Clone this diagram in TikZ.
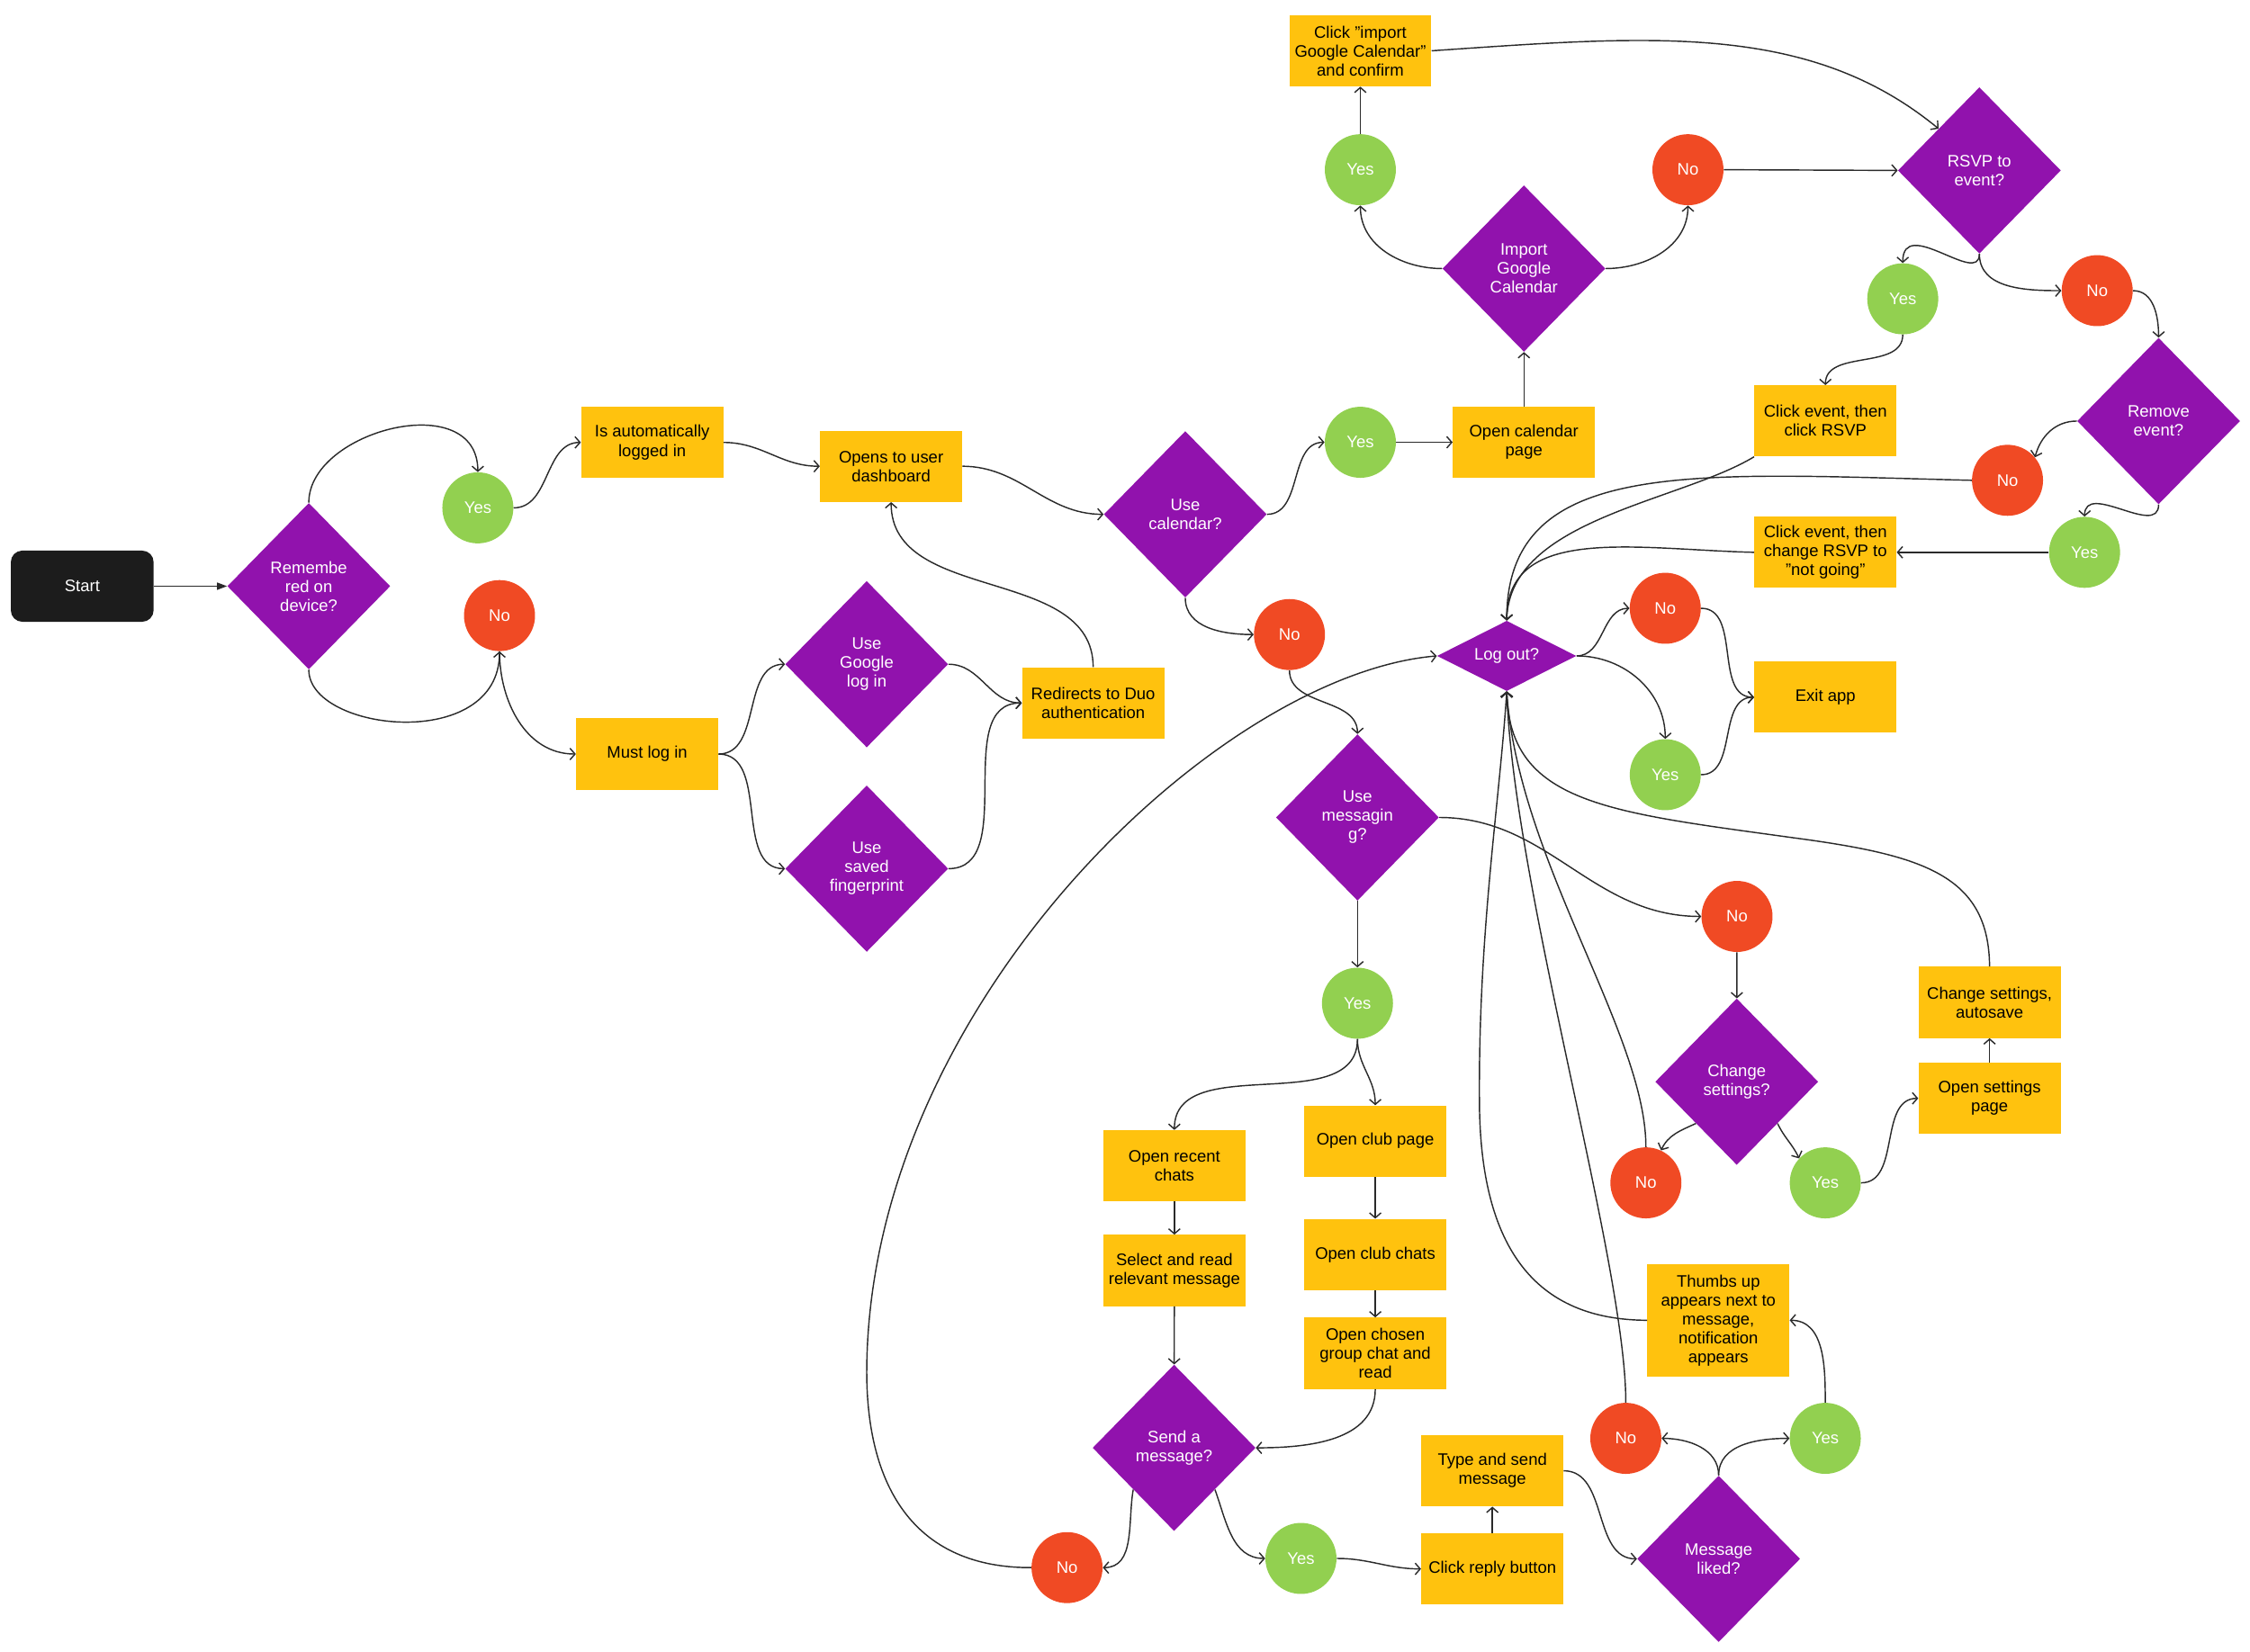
\documentclass[tikz,border=0pt]{standalone}
\usepackage{fontspec}
\setmainfont{Liberation Sans}
\usetikzlibrary{shapes.geometric,arrows.meta}
\definecolor{cYel}{HTML}{FFC20E}
\definecolor{cGrn}{HTML}{92D050}
\definecolor{cRed}{HTML}{F04A24}
\definecolor{cPur}{HTML}{9112AD}
\definecolor{cBlk}{HTML}{1C1C1C}
\definecolor{cLine}{HTML}{2A2A2A}
\begin{document}
\begin{tikzpicture}[x=1pt,y=-1pt,
  base/.style={font=\fontsize{11.6}{13.2}\selectfont, align=center, inner sep=0pt},
  box/.style={base, fill=cYel, minimum width=99pt, minimum height=49.6pt, text=black},
  yesc/.style={base, circle, fill=cGrn, minimum size=49.5pt, text=white},
  noc/.style={base, circle, fill=cRed, minimum size=49.5pt, text=white},
  dia/.style={base, diamond, fill=cPur, minimum width=113.5pt, minimum height=116pt, text=white},
  startbox/.style={base, rounded corners=8pt, fill=cBlk, minimum width=99.5pt, minimum height=49.6pt, text=white},
  arr/.style={draw=cLine, line width=0.9pt, -{Straight Barb[length=3.5pt,width=8pt]}},
  arrS/.style={draw=cLine, line width=0.9pt, -{Triangle[length=7pt,width=5pt]}}
]
\useasboundingbox (0,0) rectangle (1568,1151.5);

% nodes
\node[startbox] (start) at (57.3,408.6) {Start};
\node[dia] (rem) at (215.2,408.6) {Remembe\\red on\\device?};
\node[yesc] (y1) at (333,354) {Yes};
\node[noc] (n1) at (348.1,429.1) {No};
\node[box] (auto) at (454.5,308.4) {Is automatically\\logged in};
\node[box] (must) at (451,525.6) {Must log in};
\node[box] (dash) at (621,325) {Opens to user\\dashboard};
\node[dia] (goog) at (604,463) {Use\\Google\\log in};
\node[dia] (fing) at (604,605.5) {Use\\saved\\fingerprint};
\node[box] (duo) at (761.8,490) {Redirects to Duo\\authentication};
\node[dia] (ucal) at (826,358.5) {Use\\calendar?};
\node[yesc] (y2) at (948,308.3) {Yes};
\node[box] (ocal) at (1062,308.3) {Open calendar\\page};
\node[dia] (imp) at (1062,187.2) {Import\\Google\\Calendar};
\node[yesc] (y3) at (948,118.3) {Yes};
\node[box] (cimp) at (948,35.4) {Click "import\\Google Calendar"\\and confirm};
\node[noc] (n2) at (1176.3,118.3) {No};
\node[dia] (rsvp) at (1379.4,118.8) {RSVP to\\event?};
\node[yesc] (y4) at (1326,208.3) {Yes};
\node[noc] (n3) at (1461.5,202.6) {No};
\node[box] (crsvp) at (1272.1,293.4) {Click event, then\\click RSVP};
\node[dia] (remv) at (1504.3,293.5) {Remove\\event?};
\node[noc] (n4) at (1399,334.8) {No};
\node[yesc] (y5) at (1452.7,385) {Yes};
\node[box] (crsvp2) at (1272.1,385) {Click event, then\\change RSVP to\\"not going"};
\node[dia, minimum width=97pt, minimum height=49pt, shape aspect=2] (logout) at (1050,457.2) {Log out?};
\node[noc] (n5) at (1160.5,424) {No};
\node[yesc] (y6) at (1160.5,540) {Yes};
\node[box] (exit) at (1272.1,486) {Exit app};
\node[noc] (n6) at (898.6,442.3) {No};
\node[dia] (msg) at (946,569.8) {Use\\messagin\\g?};
\node[yesc] (y7) at (946,699.3) {Yes};
\node[noc] (n7) at (1210.5,638.8) {No};
\node[dia] (cs) at (1210.3,754) {Change\\settings?};
\node[noc] (n8) at (1147,824.5) {No};
\node[yesc] (y8) at (1272,824.5) {Yes};
\node[box] (oset) at (1386.5,765.6) {Open settings\\page};
\node[box] (csa) at (1386.5,698.7) {Change settings,\\autosave};
\node[box] (orec) at (818.4,812.6) {Open recent\\chats};
\node[box] (sel) at (818.4,885.6) {Select and read\\relevant message};
\node[box] (oclub) at (958.4,795.4) {Open club page};
\node[box] (cchat) at (958.4,874.5) {Open club chats};
\node[box] (chosen) at (958.4,943.3) {Open chosen\\group chat and\\read};
\node[dia] (send) at (818.2,1009.2) {Send a\\message?};
\node[noc] (n9) at (743.6,1092.7) {No};
\node[yesc] (y9) at (906.6,1086.3) {Yes};
\node[box] (reply) at (1040,1093.6) {Click reply button};
\node[box] (type) at (1040,1025.2) {Type and send\\message};
\node[dia] (liked) at (1197.7,1086.6) {Message\\liked?};
\node[noc] (n10) at (1133,1002.6) {No};
\node[yesc] (y10) at (1272,1002.6) {Yes};
\node[box, minimum height=78.3pt] (thumb) at (1197.5,920.3) {Thumbs up\\appears next to\\message,\\notification\\appears};

% connectors
\draw[arrS] (start) -- (rem);
\draw[arr] (rem.north) .. controls (215,300) and (333,270) .. (y1.north);
\draw[arr] (rem.south) .. controls (215,510) and (348,525) .. (n1.south);
\draw[arr] (y1.east) to[out=0,in=180] (auto.west);
\draw[arr] (auto.east) to[out=0,in=180] (dash.west);
\draw[arr] (n1.south) to[out=-90,in=180] (must.west);
\draw[arr] (must.east) to[out=0,in=180] (goog.west);
\draw[arr] (must.east) to[out=0,in=180] (fing.west);
\draw[arr] (goog.east) to[out=0,in=180] (duo.west);
\draw[arr] (fing.east) to[out=0,in=180] (duo.west);
\draw[arr] (duo.north) to[out=90,in=-90] (dash.south);
\draw[arr] (dash.east) to[out=0,in=180] (ucal.west);
\draw[arr] (ucal.east) to[out=0,in=180] (y2.west);
\draw[arr] (y2) -- (ocal);
\draw[arr] (ocal) -- (imp);
\draw[arr] (imp.west) to[out=180,in=-90] (y3.south);
\draw[arr] (imp.east) to[out=0,in=-90] (n2.south);
\draw[arr] (y3) -- (cimp);
\draw[arr] (cimp.east) .. controls (1150,25) and (1260,15) .. (rsvp.north west);
\draw[arr] (n2.east) -- (rsvp.west);
\draw[arr] (rsvp.south) .. controls (1379.4,200) and (1326,150) .. (y4.north);
\draw[arr] (rsvp.south) to[out=-90,in=180] (n3.west);
\draw[arr] (y4.south) to[out=-90,in=90] (crsvp.north);
\draw[arr] (n3.east) to[out=0,in=90] (remv.north);
\draw[arr] (remv.west) to[out=180,in=75] (n4.40);
\draw[arr] (remv.south) .. controls (1504.3,375) and (1453,335) .. (y5.north);
\draw[arr] (y5) -- (crsvp2);
\draw[arr] (crsvp.south west) .. controls (1170,350) and (1052,362) .. (logout.north);
\draw[arr] (n4.west) .. controls (1180,330) and (1050,318) .. (logout.north);
\draw[arr] (crsvp2.west) .. controls (1140,383) and (1050,365) .. (logout.north);
\draw[arr] (logout.east) to[out=0,in=180] (n5.west);
\draw[arr] (logout.east) to[out=0,in=90] (y6.north);
\draw[arr] (n5.east) to[out=0,in=180] (exit.west);
\draw[arr] (y6.east) to[out=0,in=180] (exit.west);
\draw[arr] (ucal.south) to[out=-90,in=180] (n6.west);
\draw[arr] (n6.south) to[out=-90,in=90] (msg.north);
\draw[arr] (msg) -- (y7);
\draw[arr] (msg.east) to[out=0,in=180] (n7.west);
\draw[arr] (n7) -- (cs);
\draw[arr] (cs.south west) to[out=-155,in=65] (n8.65);
\draw[arr] (cs.south east) to[out=-65,in=115] (y8.137);
\draw[arr] (y8.east) to[out=0,in=180] (oset.west);
\draw[arr] (oset) -- (csa);
\draw[arr] (csa.north) .. controls (1386,610) and (1340,596) .. (1250,584) .. controls (1120,566) and (1052,560) .. (logout.south);
\draw[arr] (n8.north) .. controls (1147,720) and (1058,600) .. (logout.south);
\draw[arr] (n10.north) .. controls (1133,880) and (1055,620) .. (logout.south);
\draw[arr] (thumb.west) .. controls (1070,920) and (1032,870) .. (1031,770) .. controls (1030,650) and (1045,560) .. (logout.south);
\draw[arr] (y7.south) to[out=-90,in=90] (orec.north);
\draw[arr] (y7.south) to[out=-90,in=90] (oclub.north);
\draw[arr] (orec) -- (sel);
\draw[arr] (sel) -- (send);
\draw[arr] (oclub) -- (cchat);
\draw[arr] (cchat) -- (chosen);
\draw[arr] (chosen.south) to[out=-90,in=0] (send.east);
\draw[arr] (send.south west) to[out=-100,in=0] (n9.east);
\draw[arr] (send.south east) to[out=-70,in=180] (y9.west);
\draw[arr] (y9.east) to[out=0,in=180] (reply.west);
\draw[arr] (reply) -- (type);
\draw[arr] (type.east) to[out=0,in=180] (liked.west);
\draw[arr] (liked.north) to[out=90,in=0] (n10.east);
\draw[arr] (liked.north) to[out=90,in=180] (y10.west);
\draw[arr] (y10.north) to[out=90,in=0] (thumb.east);
\draw[arr] (n9.west) .. controls (640,1093) and (604,1040) .. (604,956) .. controls (605,700) and (850,470) .. (logout.west);
\end{tikzpicture}
\end{document}
